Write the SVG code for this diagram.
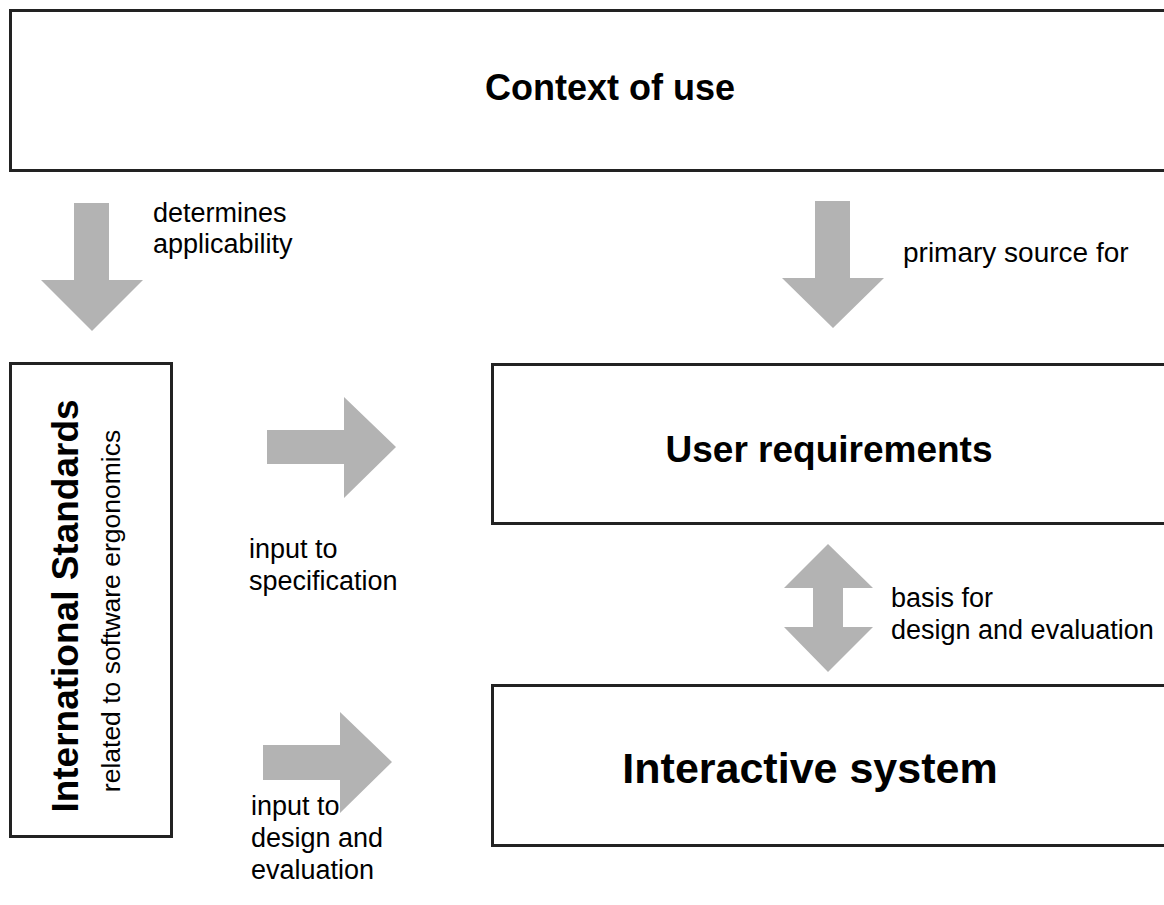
<svg xmlns="http://www.w3.org/2000/svg" width="1164" height="905" viewBox="0 0 1164 905">
  <style>
    .box { fill: #ffffff; stroke: #222222; stroke-width: 3; }
    .arrow { fill: #b3b3b3; stroke: none; }
    .title { font-family: "Liberation Sans", Arial, sans-serif; font-weight: bold; font-size: 36px; fill: #000000; }
    .label { font-family: "Liberation Sans", Arial, sans-serif; font-size: 27px; fill: #000000; }
  </style>
  <rect width="1164" height="905" fill="#ffffff"/>

  <!-- Connectors: broad grey block arrows -->
  <g id="connectors">
    <!-- Context of use -> International Standards -->
    <polygon class="arrow" points="74,203 109,203 109,280 143,280 92,331 41,280 74,280"/>
    <!-- Context of use -> User requirements -->
    <polygon class="arrow" points="815,201 850,201 850,278 884,278 833,328 782,278 815,278"/>
    <!-- Standards -> User requirements -->
    <polygon class="arrow" points="267,430 344,430 344,397 396,447 344,498 344,464 267,464"/>
    <!-- Standards -> Interactive system -->
    <polygon class="arrow" points="263,745 340,745 340,712 392,762 340,813 340,780 263,780"/>
    <!-- User requirements <-> Interactive system -->
    <polygon class="arrow" points="828,544 873,588 843,588 843,627 873,627 828,672 784,627 813,627 813,588 784,588"/>

    <text class="label" x="153" y="222">determines</text>
    <text class="label" x="153" y="253">applicability</text>
    <text class="label" x="903" y="262" style="font-size:28px">primary source for</text>
    <text class="label" x="249" y="558">input to</text>
    <text class="label" x="249" y="590">specification</text>
    <text class="label" x="891" y="607">basis for</text>
    <text class="label" x="891" y="639">design and evaluation</text>
    <text class="label" x="251" y="815">input to</text>
    <text class="label" x="251" y="847">design and</text>
    <text class="label" x="251" y="879">evaluation</text>
  </g>

  <g id="context-of-use">
    <rect class="box" x="10.5" y="10.5" width="1170" height="160"/>
    <text class="title" x="610" y="100" text-anchor="middle">Context of use</text>
  </g>

  <g id="international-standards">
    <rect class="box" x="10.5" y="363.5" width="161" height="473"/>
    <text class="title" transform="translate(78,606) rotate(-90)" text-anchor="middle" style="font-size:37px">International Standards</text>
    <text class="label" transform="translate(120,611) rotate(-90)" text-anchor="middle" style="font-size:26.5px">related to software ergonomics</text>
  </g>

  <g id="user-requirements">
    <rect class="box" x="492.5" y="364.5" width="690" height="159"/>
    <text class="title" x="829" y="462" text-anchor="middle" style="font-size:37px">User requirements</text>
  </g>

  <g id="interactive-system">
    <rect class="box" x="492.5" y="685.5" width="690" height="160"/>
    <text class="title" x="810" y="783" text-anchor="middle" style="font-size:43px">Interactive system</text>
  </g>
</svg>
